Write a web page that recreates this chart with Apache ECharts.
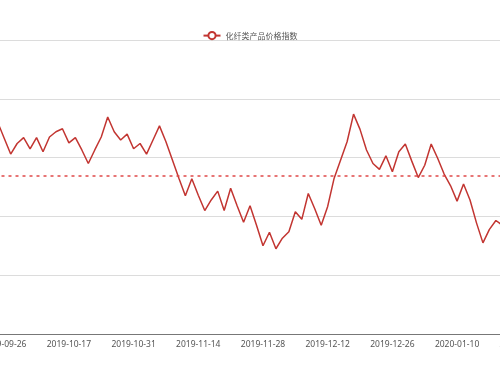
<!DOCTYPE html>
<html>
<head>
<meta charset="utf-8">
<script src="https://cdn.jsdelivr.net/npm/echarts@6/dist/echarts.min.js"></script>
<style>html,body{margin:0;padding:0;background:#fff;}#main{width:500px;height:375px;}</style>
</head>
<body>
<div id="main"></div>
<script>
var seriesName = '化纤类产品价格指数';
var dates = [
 '2019-09-25','2019-09-26','2019-09-27','2019-09-30','2019-10-08','2019-10-09','2019-10-10','2019-10-11','2019-10-14','2019-10-15','2019-10-16',
 '2019-10-17','2019-10-18','2019-10-21','2019-10-22','2019-10-23','2019-10-24','2019-10-25','2019-10-28','2019-10-29','2019-10-30',
 '2019-10-31','2019-11-01','2019-11-04','2019-11-05','2019-11-06','2019-11-07','2019-11-08','2019-11-11','2019-11-12','2019-11-13',
 '2019-11-14','2019-11-15','2019-11-18','2019-11-19','2019-11-20','2019-11-21','2019-11-22','2019-11-25','2019-11-26','2019-11-27',
 '2019-11-28','2019-11-29','2019-12-02','2019-12-03','2019-12-04','2019-12-05','2019-12-06','2019-12-09','2019-12-10','2019-12-11',
 '2019-12-12','2019-12-13','2019-12-16','2019-12-17','2019-12-18','2019-12-19','2019-12-20','2019-12-23','2019-12-24','2019-12-25',
 '2019-12-26','2019-12-27','2019-12-30','2019-12-31','2020-01-02','2020-01-03','2020-01-06','2020-01-07','2020-01-08','2020-01-09',
 '2020-01-10','2020-01-13','2020-01-14','2020-01-15','2020-01-16','2020-01-17','2020-01-20','2020-01-21','2020-01-22','2020-01-23',
 '2020-02-03'
];
var values = [
 106.0,103.3,100.6,102.4,103.4,101.5,103.4,101.0,103.5,104.4,104.9,
 102.5,103.4,101.3,99.0,101.3,103.5,106.9,104.4,103.0,104.0,
 101.5,102.4,100.6,103.0,105.4,102.7,99.6,96.5,93.5,96.4,
 93.6,91.0,92.8,94.3,91.0,94.8,91.8,89.0,91.8,88.5,
 85.0,87.3,84.5,86.3,87.4,90.8,89.5,93.9,91.3,88.5,
 91.7,96.5,99.6,102.7,107.4,104.8,101.3,99.0,98.0,100.3,
 97.6,101.0,102.3,99.4,96.6,98.7,102.3,99.9,97.2,95.2,
 92.6,95.5,92.8,88.9,85.5,87.8,89.3,88.5,88.7,89.4,
 89.2
];
var yMin = 70, yMax = 120, yStep = 10;

var chart = echarts.init(document.getElementById('main'), null, {renderer: 'canvas'});
var red = '#c23531';
var markRed = '#e04848';
chart.setOption({
  animation: false,
  backgroundColor: '#fff',
  legend: {
    data: [seriesName],
    top: 26,
    left: 'center',
    itemWidth: 17,
    itemHeight: 9,
    itemGap: 10,
    textStyle: {color: '#555', fontSize: 8, fontFamily: 'Noto Sans CJK SC'}
  },
  grid: {left: -5.5, right: -25, top: 40, bottom: 41, containLabel: false, outerBoundsMode: 'none'},
  xAxis: {
    type: 'category',
    data: dates,
    boundaryGap: true,
    axisLine: {lineStyle: {color: '#777'}},
    axisTick: {lineStyle: {color: '#777'}, length: 4},
    axisLabel: {
      color: '#555',
      fontSize: 8.5,
      margin: 6,
      fontFamily: 'Noto Sans, sans-serif',
      interval: function (idx) { return (idx - 1) % 10 === 0; }
    },
    splitLine: {show: false}
  },
  yAxis: {
    type: 'value',
    min: yMin,
    max: yMax,
    interval: yStep,
    axisLine: {show: false},
    axisTick: {show: false},
    axisLabel: {show: false},
    splitLine: {lineStyle: {color: '#dcdcdc'}}
  },
  series: [{
    name: seriesName,
    type: 'line',
    data: values,
    symbol: 'emptyCircle',
    symbolSize: 7,
    showSymbol: false,
    color: red,
    itemStyle: {color: red},
    lineStyle: {color: red, width: 1.5},
    markLine: {
      silent: true,
      symbol: ['none', 'none'],
      label: {show: false},
      itemStyle: {color: markRed},
      lineStyle: {color: markRed, type: [3, 4], width: 1.5, opacity: 1},
      emphasis: {disabled: true},
      data: [{type: 'average', name: '平均值', itemStyle: {color: markRed}, lineStyle: {color: markRed, width: 1.5, type: [3, 4]}}]
    }
  }]
});
</script>
</body>
</html>
